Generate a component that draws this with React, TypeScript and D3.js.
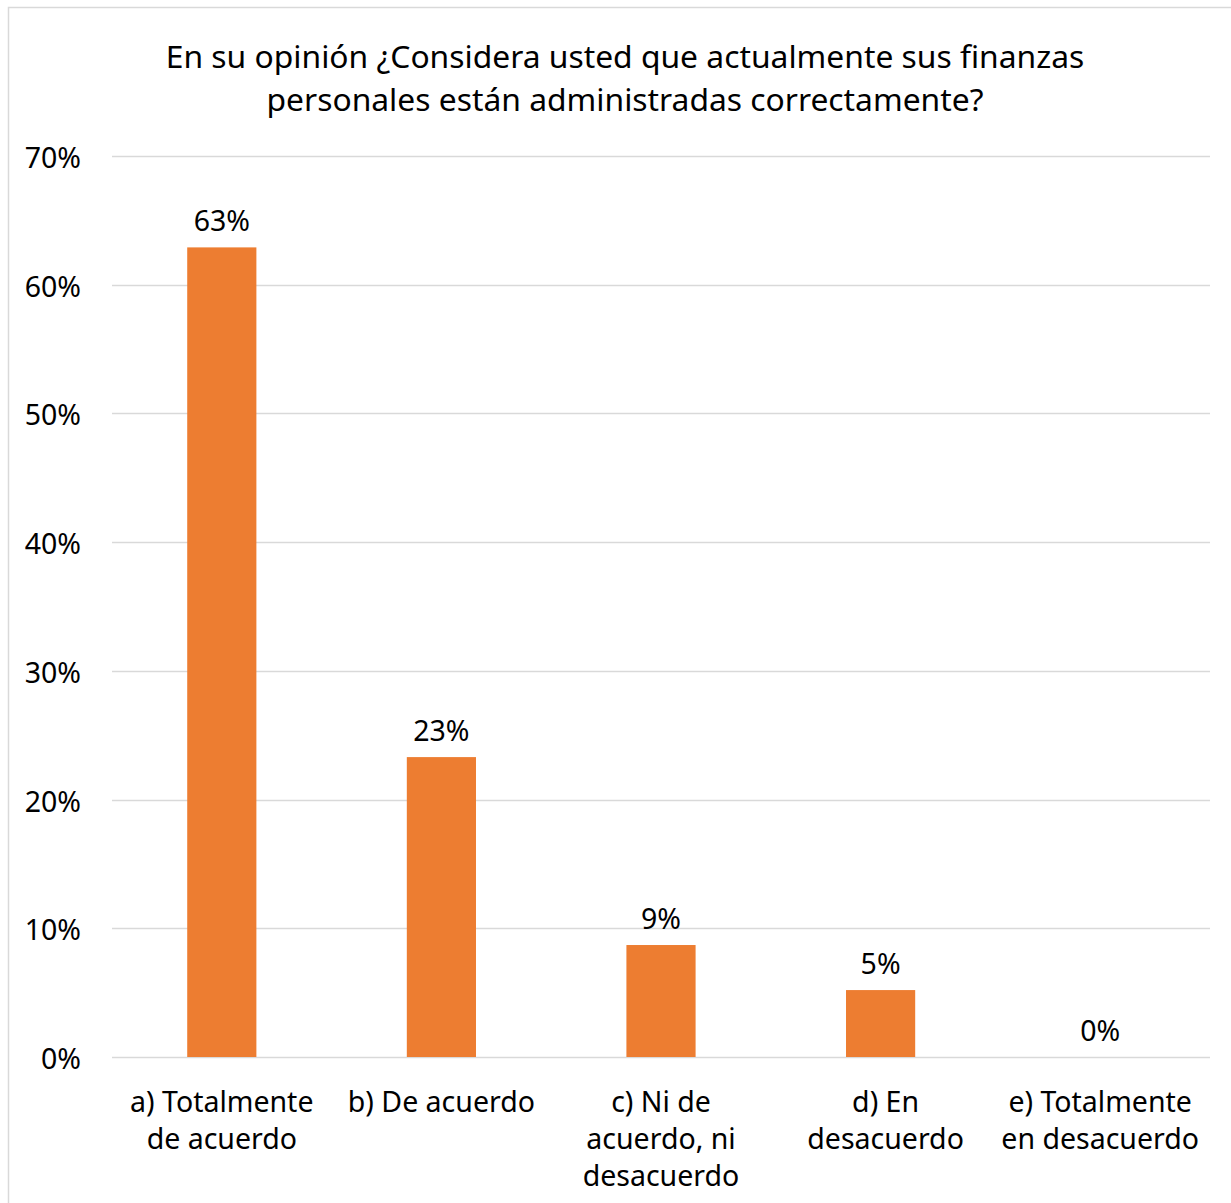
import React from "react";
import * as d3 from "d3";

const categories = [
  ["a) Totalmente", "de acuerdo"],
  ["b) De acuerdo"],
  ["c) Ni de", "acuerdo, ni", "desacuerdo"],
  ["d) En", "desacuerdo"],
  ["e) Totalmente", "en desacuerdo"],
];
const values = [0.629, 0.233, 0.087, 0.052, 0];
const valueLabels = ["63%", "23%", "9%", "5%", "0%"];
const yTicks = [0, 0.1, 0.2, 0.3, 0.4, 0.5, 0.6, 0.7];
const titleLines = [
  "En su opinión ¿Considera usted que actualmente sus finanzas",
  "personales están administradas correctamente?",
];

const W = 1231;
const H = 1203;
const FONT = "'Noto Sans', 'Open Sans', sans-serif";

export default function App() {
  const left = 112, right = 1210, top = 156, bottom = 1057;
  const x = d3.scaleBand<number>().domain(d3.range(categories.length)).range([left, right]).padding(0);
  const y = d3.scaleLinear().domain([0, 0.7]).range([bottom, top]);
  const bw = x.bandwidth() * 0.315;
  return (
    <div style={{ position: "absolute", left: 0, top: 0 }}>
      <svg width={W} height={H} style={{ display: "block", background: "#fff" }}>
        <rect x={8.5} y={7.5} width={1240} height={1220} fill="#fff" stroke="#d9d9d9" strokeWidth={1.5} />
        {titleLines.map((t, i) => (
          <text key={i} x={625} y={68 + i * 43} textAnchor="middle" fontFamily={FONT} fontSize={31.8} fill="#000">
            {t}
          </text>
        ))}
        {yTicks.map((t) => (
          <g key={t}>
            <line x1={left} x2={right} y1={Math.round(y(t)) + 0.5} y2={Math.round(y(t)) + 0.5} stroke="#d9d9d9" strokeWidth={1.5} />
            <text x={81} y={y(t) + 12} textAnchor="end" fontFamily={FONT} fontSize={28.5} fill="#000">
              {d3.format(".0%")(t)}
            </text>
          </g>
        ))}
        {values.map((v, i) => {
          const cx = (x(i) as number) + x.bandwidth() / 2;
          return (
            <g key={i}>
              <rect x={cx - bw / 2} y={y(v)} width={bw} height={bottom - y(v)} fill="#ed7d31" />
              <text x={cx} y={y(v) - 16} textAnchor="middle" fontFamily={FONT} fontSize={28.5} fill="#000">
                {valueLabels[i]}
              </text>
              {categories[i].map((line, j) => (
                <text key={j} x={cx + (i === 3 ? 5 : 0)} y={1112 + j * 37} textAnchor="middle" fontFamily={FONT} fontSize={28.5} fill="#000">
                  {line}
                </text>
              ))}
            </g>
          );
        })}
      </svg>
    </div>
  );
}
